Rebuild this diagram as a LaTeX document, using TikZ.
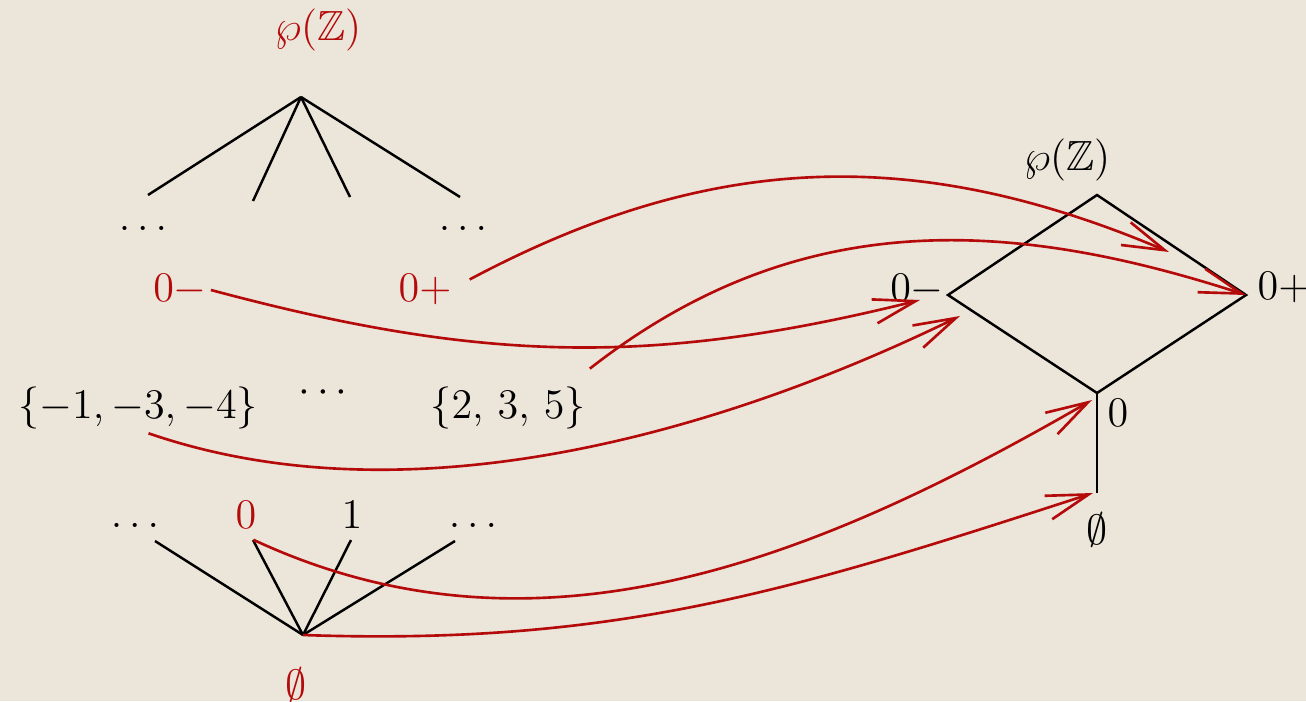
\documentclass[tikz,border=0pt]{standalone}
\usepackage{amssymb}
\usetikzlibrary{arrows.meta, calc}
\definecolor{parchment}{RGB}{236,229,218}
\definecolor{ordred}{RGB}{180,10,10}

\begin{document}
\begin{tikzpicture}[
    lbl/.style={inner sep=1pt, font=\large},
    redlbl/.style={lbl, text=ordred},
    edge/.style={black, line width=0.7pt},
    embed/.style={ordred, line width=0.75pt, -{Straight Barb[length=12pt, width=7pt]}}
  ]
    \fill[parchment] (0,0) rectangle (13.06,7.01);
    \useasboundingbox (0,0) rectangle (13.06,7.01);

    % left lattice
    \node[redlbl] (PZl) at (3.18,6.71) {$\wp(\mathbb{Z})$};
    \coordinate (topl) at (3.01,6.04);
    \foreach \x/\y [count=\i] in {1.48/5.06, 2.53/5.00, 3.50/5.04, 4.60/5.04} {
        \coordinate (up\i) at (\x,\y);
        \draw[edge] (topl) -- (up\i);
    };
    \node[lbl] (dotsUL) at (1.43,4.73) {$\ldots$};
    \node[lbl] (dotsUR) at (4.63,4.73) {$\ldots$};
    \node[redlbl] (zmL) at (1.80,4.11) {$0-$};
    \node[redlbl] (zpL) at (4.25,4.11) {$0+$};

    \node[lbl] (sneg) at (1.38,2.93) {$\{-1,-3,-4\}$};
    \node[lbl] (cdotsM) at (3.23,3.08) {$\cdots$};
    \node[lbl] (spos) at (5.08,2.93) {$\{2,\,3,\,5\}$};

    \node[lbl] (dotsDL) at (1.35,1.76) {$\ldots$};
    \node[redlbl] (zeroL) at (2.46,1.86) {$0$};
    \node[lbl] (oneL) at (3.52,1.86) {$1$};
    \node[lbl] (dotsDR) at (4.73,1.76) {$\ldots$};
    \coordinate (botl) at (3.03,0.66);
    \foreach \x/\y [count=\i] in {1.55/1.60, 2.53/1.61, 3.51/1.61, 4.55/1.60} {
        \coordinate (dn\i) at (\x,\y);
        \draw[edge] (botl) -- (dn\i);
    };
    \node[redlbl] (emptyL) at (2.96,0.16) {$\emptyset$};

    % right lattice
    \coordinate (topr) at (10.97,5.06);
    \coordinate (leftr) at (9.48,4.06);
    \coordinate (rightr) at (12.46,4.06);
    \coordinate (midr) at (10.97,3.08);
    \coordinate (botr) at (10.97,2.08);
    \draw[edge] (topr) -- (leftr) -- (midr) -- (rightr) -- cycle;
    \draw[edge] (midr) -- (botr);
    \node[lbl] (PZr) at (10.67,5.41) {$\wp(\mathbb{Z})$};
    \node[lbl] (zmR) at (9.17,4.11) {$0-$};
    \node[lbl] (zpR) at (12.84,4.13) {$0+$};
    \node[lbl] (zeroR) at (11.18,2.88) {$0$};
    \node[lbl] (emptyR) at (10.97,1.71) {$\emptyset$};

    \coordinate (tipA) at (11.69,4.49);
    \coordinate (tipC) at (9.20,4.01);
    \coordinate (tipD) at (9.60,3.85);
    \coordinate (tipE) at (10.92,3.01);
    \coordinate (tipF) at (10.93,2.08);

    \draw[embed] ([xshift=4pt,yshift=3pt]zpL.east) to[out=28, in=157] (tipA);
    \draw[embed] ([yshift=4pt]spos.north east) to[out=38, in=162] (rightr);
    \draw[embed] (zmL.east) to[out=-15, in=-166] (tipC);
    \draw[embed] ([xshift=3pt]sneg.south) to[out=-19, in=-154, looseness=0.85] (tipD);
    \draw[embed] ([xshift=-2pt,yshift=-2pt]zeroL.south east) to[out=-25, in=-150, looseness=0.95] (tipE);
    \draw[embed] (botl) to[out=-2, in=-162] (tipF);
\end{tikzpicture}
\end{document}
